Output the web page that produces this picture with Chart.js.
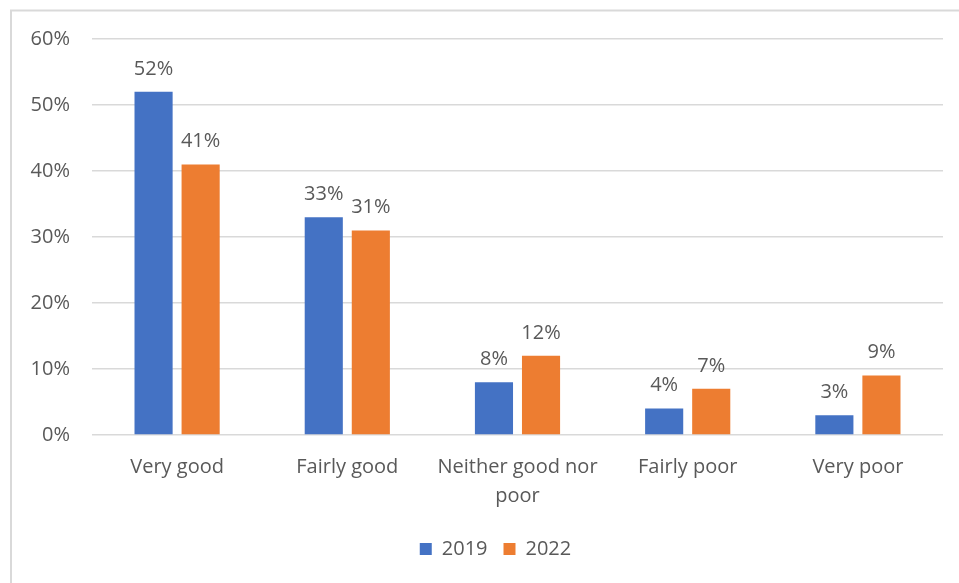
<!DOCTYPE html>
<html>
<head>
<meta charset="utf-8">
<script src="https://cdn.jsdelivr.net/npm/chart.js@4"></script>
<style>
  html, body { margin: 0; padding: 0; background: #ffffff; }
  #wrap { width: 959px; height: 583px; position: relative; }
</style>
</head>
<body>
<div id="wrap"><canvas id="myChart"></canvas></div>
<script>
const labels = [
  "Very good",
  "Fairly good",
  ["Neither good nor", "poor"],
  "Fairly poor",
  "Very poor",
];

const data2019 = [52, 33, 8, 4, 3];
const data2022 = [41, 31, 12, 7, 9];

const yTicks = [0, 10, 20, 30, 40, 50, 60];

const blue = "#4472C4";
const orange = "#ED7D31";
const textGrey = "#595959";
const lineGrey = "#d9d9d9";
const fontFamily = "'Open Sans', sans-serif";

// light frame round the whole chart
const framePlugin = {
  id: "frame",
  beforeDraw(chart) {
    const ctx = chart.ctx;
    ctx.save();
    ctx.strokeStyle = lineGrey;
    ctx.lineWidth = 2;
    ctx.strokeRect(11, 10.5, 2000, 2000);
    ctx.restore();
  },
};

// centre the legend under the plot rather than the whole canvas
const legendShift = {
  id: "legendShift",
  afterLayout(chart) {
    const lg = chart.legend;
    if (lg) {
      lg.left += 24;
      lg.right += 24;
    }
  },
};

// percentage labels above each bar
const valueLabels = {
  id: "valueLabels",
  afterDatasetsDraw(chart) {
    const ctx = chart.ctx;
    ctx.save();
    ctx.fillStyle = textGrey;
    ctx.font = "20px " + fontFamily;
    ctx.textAlign = "center";
    ctx.textBaseline = "bottom";
    chart.data.datasets.forEach((ds, i) => {
      chart.getDatasetMeta(i).data.forEach((bar, j) => {
        ctx.fillText(ds.data[j] + "%", bar.x, bar.y - 13);
      });
    });
    ctx.restore();
  },
};

const ctx = document.getElementById("myChart");

const myChart = new Chart(ctx, {
  type: "bar",
  data: {
    labels: labels,
    datasets: [
      {
        label: "2019",
        data: data2019,
        backgroundColor: blue,
        categoryPercentage: 0.553,
        barPercentage: 0.81,
      },
      {
        label: "2022",
        data: data2022,
        backgroundColor: orange,
        categoryPercentage: 0.553,
        barPercentage: 0.81,
      },
    ],
  },
  options: {
    responsive: true,
    maintainAspectRatio: false,
    animation: false,
    layout: {
      padding: { left: 0, top: 39, right: 16, bottom: 14 },
    },
    plugins: {
      legend: {
        position: "bottom",
        labels: {
          color: textGrey,
          font: { family: fontFamily, size: 20 },
          boxWidth: 12,
          boxHeight: 12,
          padding: 16,
        },
      },
      tooltip: { enabled: false },
    },
    scales: {
      x: {
        grid: { display: false },
        border: { display: false },
        ticks: {
          color: textGrey,
          font: { family: fontFamily, size: 20, lineHeight: 1.45 },
          padding: 10,
          maxRotation: 0,
          autoSkip: false,
        },
        afterFit: (scale) => {
          scale.height = 88;
        },
      },
      y: {
        min: 0,
        max: 60,
        afterBuildTicks: (scale) => {
          scale.ticks = yTicks.map((v) => ({ value: v }));
        },
        grid: {
          color: lineGrey,
          lineWidth: 1.5,
          drawTicks: false,
        },
        border: { display: false },
        ticks: {
          color: textGrey,
          font: { family: fontFamily, size: 20 },
          padding: 22,
          callback: (v) => v + "%",
        },
        afterFit: (scale) => {
          scale.width = 92;
        },
      },
    },
  },
  plugins: [framePlugin, legendShift, valueLabels],
});
</script>
</body>
</html>
